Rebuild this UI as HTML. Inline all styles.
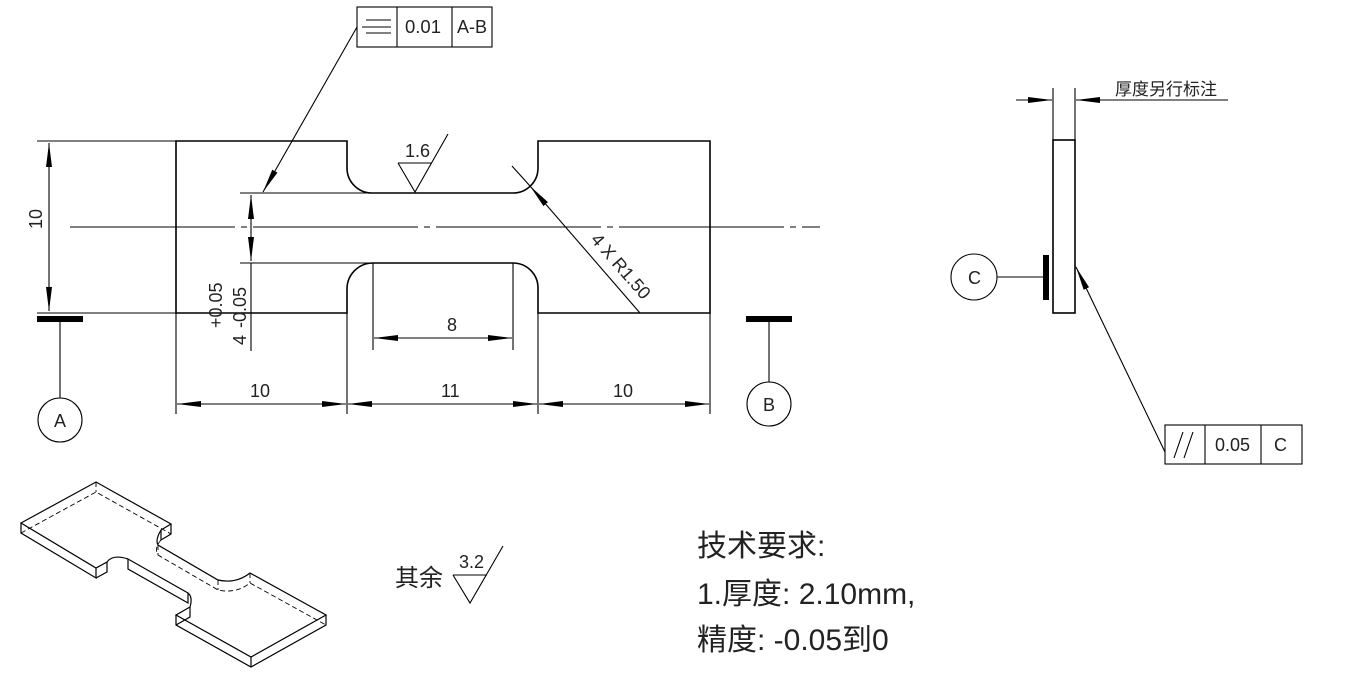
<!DOCTYPE html>
<html><head><meta charset="utf-8"><style>
html,body{margin:0;padding:0;background:#fff;}
svg{display:block;}
text{font-family:"Liberation Sans","Noto Sans CJK SC",sans-serif;fill:#222;}
</style></head><body>
<svg width="1348" height="680" viewBox="0 0 1348 680" xmlns="http://www.w3.org/2000/svg">
<defs>
<marker id="ar2" viewBox="0 0 24 6" refX="24" refY="3" markerWidth="24" markerHeight="6" markerUnits="userSpaceOnUse" orient="auto-start-reverse"><path d="M0,0 L24,3 L0,6z" fill="#000"/></marker>
</defs>
<g stroke="#000" fill="none" stroke-width="1.6">
<path d="M176,141 H347 V168 A25,25 0 0 0 372,193 H513 A25,25 0 0 0 538,168 V141 H710 V313 H538 V288 A25,25 0 0 0 513,263 H373 A26,26 0 0 0 347,289 V313 H176 Z"/>
</g>
<g stroke="#000" fill="none" stroke-width="1.1">
<line x1="37" y1="141" x2="176" y2="141"/>
<line x1="37" y1="313" x2="176" y2="313"/>
<line x1="240" y1="193" x2="372" y2="193"/>
<line x1="240" y1="263" x2="373" y2="263"/>
<line x1="70" y1="227" x2="820" y2="227" stroke-dasharray="165,6,6,6"/>
<line x1="49" y1="143" x2="49" y2="311" marker-start="url(#ar2)" marker-end="url(#ar2)"/>
<line x1="251" y1="195" x2="251" y2="261" marker-start="url(#ar2)" marker-end="url(#ar2)"/>
<line x1="251" y1="263" x2="251" y2="351"/>
<line x1="176" y1="313" x2="176" y2="414"/>
<line x1="347" y1="313" x2="347" y2="414"/>
<line x1="538" y1="313" x2="538" y2="414"/>
<line x1="710" y1="313" x2="710" y2="414"/>
<line x1="177" y1="404" x2="346" y2="404" marker-start="url(#ar2)" marker-end="url(#ar2)"/>
<line x1="348" y1="404" x2="537" y2="404" marker-start="url(#ar2)" marker-end="url(#ar2)"/>
<line x1="539" y1="404" x2="709" y2="404" marker-start="url(#ar2)" marker-end="url(#ar2)"/>
<line x1="373" y1="263" x2="373" y2="350"/>
<line x1="513" y1="263" x2="513" y2="350"/>
<line x1="374" y1="338" x2="512" y2="338" marker-start="url(#ar2)" marker-end="url(#ar2)"/>
<line x1="60" y1="320" x2="60" y2="398"/>
<circle cx="60" cy="420" r="22"/>
<line x1="769" y1="320" x2="769" y2="382"/>
<circle cx="769" cy="404" r="22"/>
<path d="M398,163 H432 M398,163 L415,192 L448,134"/>
<rect x="357" y="7" width="135" height="40"/>
<line x1="397" y1="7" x2="397" y2="47"/>
<line x1="452" y1="7" x2="452" y2="47"/>
<path d="M366,20 H391 M362,27 H391 M366,33 H391"/>
<line x1="357" y1="27" x2="263" y2="192" marker-end="url(#ar2)"/>
<line x1="640" y1="313" x2="530" y2="186" marker-end="url(#ar2)"/>
<line x1="530" y1="186" x2="512" y2="166"/>
<rect x="1053" y="140" width="22" height="173" stroke-width="1.6"/>
<line x1="1053" y1="88" x2="1053" y2="140"/>
<line x1="1075" y1="88" x2="1075" y2="140"/>
<line x1="1016" y1="100" x2="1052" y2="100" marker-end="url(#ar2)"/>
<line x1="1228" y1="100" x2="1076" y2="100" marker-end="url(#ar2)"/>
<circle cx="974" cy="277" r="23"/>
<line x1="997" y1="277" x2="1045" y2="277"/>
<rect x="1165" y="425" width="137" height="39"/>
<line x1="1205" y1="425" x2="1205" y2="464"/>
<line x1="1261" y1="425" x2="1261" y2="464"/>
<path d="M1174,458 L1183,432 M1184,458 L1193,432"/>
<line x1="1165" y1="452" x2="1076" y2="267" marker-end="url(#ar2)"/>
<path d="M453,575 H487 M453,575 L470,603 L503,546"/>
</g>
<g fill="#000">
<rect x="37" y="316" width="46" height="6"/>
<rect x="746" y="316" width="46" height="6"/>
<rect x="1043" y="255" width="6" height="45"/>
</g>
<g stroke="#000" fill="none" stroke-width="1.2">
<path d="M21,523 L96,482 L171,524 L161,530 Q155,540 158,545 L218,580 Q236,584 250,573 L326,615 L251,657 L176,615 L190,607 Q193,597 188,593 L128,559 Q113,554 107,562 L96,568 Z"/>
<path d="M21,523 V533 L96,578 V568 M96,578 L107,572 V562 M128,559 V569 L188,603 V593 M176,615 V625 L251,667 L326,625 V615 M251,657 V667 M171,524 V534 L161,540 V530"/>
<path d="M190,607 V617 L176,625"/>
</g>
<g stroke="#000" fill="none" stroke-width="0.9" stroke-dasharray="5,3">
<path d="M21,533 L96,492 L171,534 M96,482 V492 M161,540 Q154,548 158,555 L218,590 Q236,594 250,583 L326,625 M250,573 V583 M218,580 V590 M158,545 V555"/>
</g>
<g font-size="18">
<text x="405" y="33" textLength="36" lengthAdjust="spacingAndGlyphs">0.01</text>
<text x="457" y="33">A-B</text>
<text x="405" y="157">1.6</text>
<text x="250" y="397">10</text>
<text x="441" y="397">11</text>
<text x="613" y="397">10</text>
<text x="447" y="331">8</text>
<text x="54" y="427">A</text>
<text x="763" y="411">B</text>
<text x="968" y="284">C</text>
<text x="1215" y="451">0.05</text>
<text x="1274" y="451">C</text>
<text x="459" y="568">3.2</text>
<text transform="translate(42,229) rotate(-90)">10</text>
<text transform="translate(246,345) rotate(-90)">4 <tspan dx="2">-0.05</tspan></text>
<text transform="translate(222,328) rotate(-90)">+0.05</text>
<text transform="translate(590,240) rotate(49)">4 X R1.50</text>
</g>
<text x="1115" y="95" font-size="17">厚度另行标注</text>
<text x="395" y="586" font-size="24">其余</text>
<g font-size="30">
<text x="697" y="556">技术要求:</text>
<text x="697" y="604">1.厚度: 2.10mm,</text>
<text x="697" y="650">精度: -0.05到0</text>
</g>
</svg>
</body></html>
